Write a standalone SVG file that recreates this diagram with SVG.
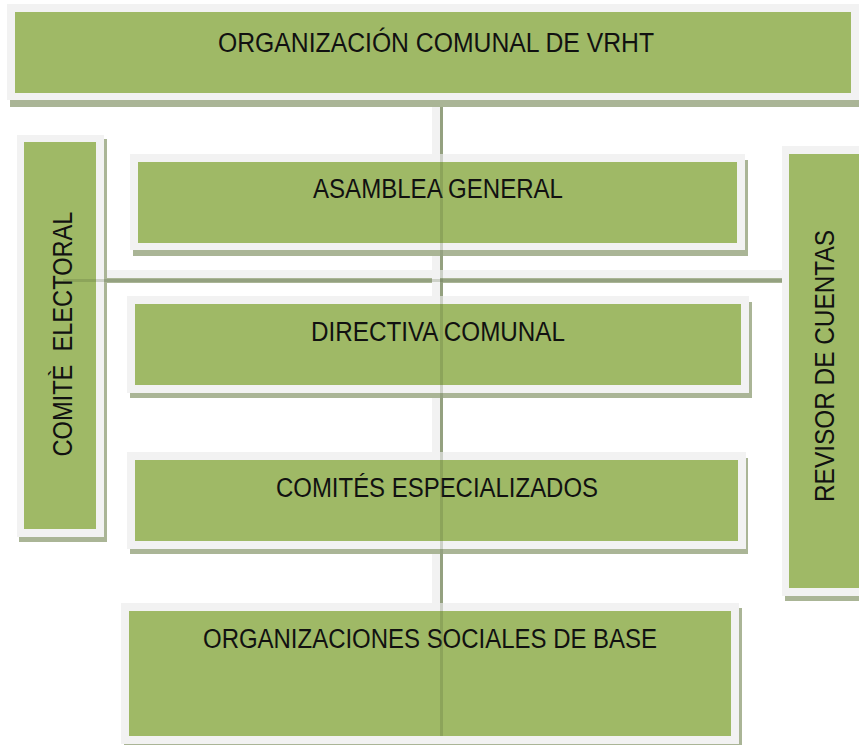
<svg xmlns="http://www.w3.org/2000/svg" width="859" height="745" viewBox="0 0 859 745">
<style>
.sh{fill:#aab596}
.fr{fill:#f2f2f2}
.gr{fill:#9fb966}
.lb{stroke:#f2f2f2;stroke-width:8;fill:none}
.ls{stroke:#aab596;stroke-width:8;fill:none}
.dk{stroke:#4a5a30;stroke-opacity:0.22;stroke-width:3;fill:none}
text{font-family:"Liberation Sans",Arial,sans-serif;font-size:27px;fill:#111;text-anchor:middle}
</style>
<rect width="859" height="745" fill="#ffffff"/>
<g id="connectors">
<line class="ls" x1="439" y1="105" x2="439" y2="610"/>
<line class="ls" x1="63" y1="279" x2="787" y2="279"/>
<line class="lb" x1="436" y1="100" x2="436" y2="605"/>
<line class="lb" x1="60" y1="274" x2="784" y2="274"/>
</g>
<g id="n-top">
<rect class="sh" x="10" y="9" width="849" height="98"/>
<rect class="fr" x="7" y="4" width="852" height="96"/>
<rect class="gr" x="15" y="12" width="836" height="81"/>
<text x="436" y="52" textLength="436" lengthAdjust="spacingAndGlyphs">ORGANIZACIÓN COMUNAL DE VRHT</text>
</g>
<g id="n-asamblea">
<rect class="sh" x="133" y="160" width="615" height="96"/>
<rect class="fr" x="130" y="154" width="615" height="96"/>
<rect class="gr" x="138" y="162" width="599" height="81"/>
<text x="438" y="198" textLength="250" lengthAdjust="spacingAndGlyphs">ASAMBLEA GENERAL</text>
</g>
<g id="n-directiva">
<rect class="sh" x="130" y="302" width="622" height="96"/>
<rect class="fr" x="127" y="296" width="622" height="97"/>
<rect class="gr" x="135" y="304" width="606" height="81"/>
<text x="438" y="341" textLength="254" lengthAdjust="spacingAndGlyphs">DIRECTIVA COMUNAL</text>
</g>
<g id="n-comites">
<rect class="sh" x="130" y="458" width="618" height="96"/>
<rect class="fr" x="127" y="452" width="619" height="97"/>
<rect class="gr" x="135" y="460" width="603" height="81"/>
<text x="437" y="497" textLength="322" lengthAdjust="spacingAndGlyphs">COMITÉS ESPECIALIZADOS</text>
</g>
<g id="n-base">
<rect class="sh" x="124" y="608" width="618" height="140"/>
<rect class="fr" x="121" y="603" width="618" height="141"/>
<rect class="gr" x="129" y="611" width="602" height="125"/>
<text x="430" y="648" textLength="454" lengthAdjust="spacingAndGlyphs">ORGANIZACIONES SOCIALES DE BASE</text>
</g>
<g id="n-comite-electoral">
<rect class="sh" x="19" y="139" width="88" height="403"/>
<rect class="fr" x="17" y="135" width="87" height="402"/>
<rect class="gr" x="24" y="142" width="72" height="387"/>
<text transform="translate(72,334) rotate(-90)" x="0" y="0" textLength="245" lengthAdjust="spacingAndGlyphs" xml:space="preserve">COMITÈ  ELECTORAL</text>
</g>
<g id="n-revisor">
<rect class="sh" x="785" y="150" width="74" height="451"/>
<rect class="fr" x="782" y="146" width="77" height="450"/>
<rect class="gr" x="789" y="154" width="70" height="434"/>
<text transform="translate(834,366) rotate(-90)" x="0" y="0" textLength="272" lengthAdjust="spacingAndGlyphs">REVISOR DE CUENTAS</text>
</g>
<g id="connector-overlay">
<line class="dk" x1="441.5" y1="107" x2="441.5" y2="736"/>
<line class="dk" x1="63" y1="280.5" x2="782" y2="280.5"/>
</g>
</svg>
